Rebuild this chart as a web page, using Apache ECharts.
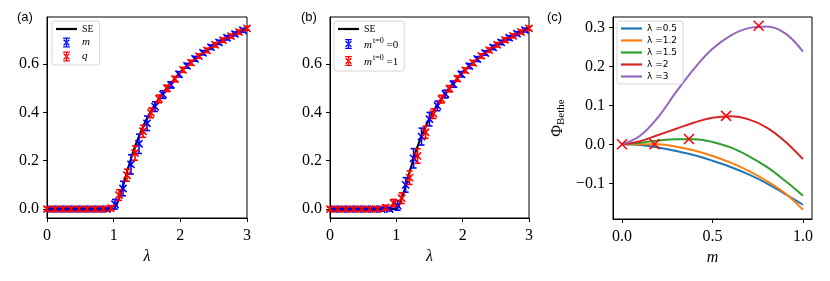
<!DOCTYPE html>
<html><head><meta charset="utf-8">
<script src="https://cdn.jsdelivr.net/npm/echarts@6/dist/echarts.min.js"></script>
<style>html,body{margin:0;padding:0;background:#fff}#c{width:830px;height:281px}</style>
</head><body><div id="c"></div>
<script>
// ---------- data ----------
const seLambda = [0, 0.5, 0.95, 1.0, 1.05, 1.1, 1.15, 1.2, 1.25, 1.3, 1.35, 1.4, 1.45, 1.5, 1.55, 1.6, 1.65, 1.7, 1.75, 1.8, 1.85, 1.9, 1.95, 2.0, 2.1, 2.2, 2.3, 2.4, 2.5, 2.6, 2.7, 2.8, 2.9, 3.0];
const seValue  = [0, 0, 0, 0, 0.02, 0.058, 0.105, 0.154, 0.2, 0.244, 0.281, 0.315, 0.347, 0.376, 0.401, 0.425, 0.446, 0.466, 0.485, 0.502, 0.519, 0.535, 0.551, 0.567, 0.593, 0.617, 0.638, 0.658, 0.677, 0.695, 0.71, 0.724, 0.737, 0.75];

const redLambda  = [0, 0.12, 0.24, 0.36, 0.48, 0.6, 0.72, 0.84, 0.96, 1.08, 1.2, 1.32, 1.44, 1.56, 1.68, 1.8, 1.92, 2.04, 2.16, 2.28, 2.4, 2.52, 2.64, 2.76, 2.88, 3.0];
const blueLambda = [0.06, 0.18, 0.3, 0.42, 0.54, 0.66, 0.78, 0.9, 1.02, 1.14, 1.26, 1.38, 1.5, 1.62, 1.74, 1.86, 1.98, 2.1, 2.22, 2.34, 2.46, 2.58, 2.7, 2.82, 2.94];

// panel (a)
const aQValue = [0, 0, 0, 0, 0, 0, 0, 0, 0.004, 0.058, 0.14, 0.232, 0.322, 0.398, 0.456, 0.5, 0.538, 0.576, 0.606, 0.633, 0.657, 0.68, 0.699, 0.716, 0.733, 0.748];
const aQErr   = [0.008, 0.008, 0.008, 0.008, 0.008, 0.008, 0.008, 0.008, 0.01, 0.022, 0.025, 0.03, 0.025, 0.02, 0.016, 0.013, 0.011, 0.01, 0.01, 0.009, 0.009, 0.009, 0.009, 0.008, 0.008, 0.008];
const aMValue = [0, 0, 0, 0, 0, 0, 0, 0, 0.02, 0.085, 0.185, 0.27, 0.355, 0.424, 0.474, 0.514, 0.558, 0.593, 0.622, 0.647, 0.67, 0.69, 0.709, 0.725, 0.74];
const aMErr   = [0.008, 0.008, 0.008, 0.008, 0.008, 0.008, 0.008, 0.008, 0.02, 0.03, 0.04, 0.04, 0.03, 0.02, 0.016, 0.013, 0.011, 0.01, 0.01, 0.009, 0.009, 0.009, 0.009, 0.008, 0.008];

// panel (b)
const bM1Value = [0, 0, 0, 0, 0, 0, 0, 0.006, 0.025, 0.045, 0.13, 0.22, 0.318, 0.395, 0.455, 0.498, 0.54, 0.574, 0.605, 0.634, 0.658, 0.68, 0.7, 0.717, 0.733, 0.748];
const bM1Err   = [0.008, 0.008, 0.008, 0.008, 0.008, 0.008, 0.008, 0.01, 0.015, 0.022, 0.028, 0.03, 0.025, 0.02, 0.016, 0.013, 0.011, 0.01, 0.01, 0.009, 0.009, 0.009, 0.009, 0.008, 0.008, 0.008];
const bM0Value = [0, 0, 0, 0, 0, 0, 0, 0, 0.015, 0.1, 0.21, 0.3, 0.372, 0.427, 0.476, 0.517, 0.558, 0.592, 0.621, 0.646, 0.669, 0.69, 0.709, 0.726, 0.741];
const bM0Err   = [0.008, 0.008, 0.008, 0.008, 0.008, 0.008, 0.008, 0.008, 0.02, 0.03, 0.04, 0.035, 0.028, 0.02, 0.016, 0.013, 0.011, 0.01, 0.01, 0.009, 0.009, 0.009, 0.009, 0.008, 0.008];

// panel (c)
const cM = [0, 0.1, 0.2, 0.3, 0.4, 0.5, 0.6, 0.7, 0.8, 0.9, 1.0];
const cNames = ['λ =0.5', 'λ =1.2', 'λ =1.5', 'λ =2', 'λ =3'];
const cPhi05 = [0, -0.002, -0.008, -0.017, -0.028, -0.042, -0.058, -0.077, -0.1, -0.127, -0.155];
const cPhi12 = [0, 0.0005, 0.0, -0.006, -0.016, -0.03, -0.047, -0.068, -0.094, -0.125, -0.168];
const cPhi15 = [0, 0.004, 0.01, 0.013, 0.013, 0.006, -0.008, -0.03, -0.058, -0.093, -0.132];
const cPhi2  = [0, 0.008, 0.024, 0.04, 0.056, 0.068, 0.072, 0.064, 0.043, 0.008, -0.038];
const cPhi3  = [0, 0.022, 0.07, 0.135, 0.195, 0.245, 0.279, 0.298, 0.302, 0.285, 0.238];
const cMaxM   = [0, 0.18, 0.37, 0.575, 0.755];
const cMaxPhi = [0, 0.0005, 0.0135, 0.073, 0.304];

const aTicksX = [0, 1, 2, 3];
const aTicksY = [0, 0.2, 0.4, 0.6];
const cTicksX = [0, 0.5, 1];
const cTicksY = [-0.1, 0, 0.1, 0.2, 0.3];

// ---------- chart ----------
const SERIF = 'Liberation Serif';
const chart = echarts.init(document.getElementById('c'));
const zip3 = (x, y, e) => x.map((v, i) => [v, y[i], e[i]]);
const zip2 = (x, y) => x.map((v, i) => [v, y[i]]);

function errRender(params, api) {
  const x = api.value(0), y = api.value(1), e = api.value(2);
  const c = api.coord([x, y]);
  const t = api.coord([x, y + e]);
  const b = api.coord([x, y - e]);
  const color = api.visual('color');
  const cw = 3, mk = 3.6;
  const style = { stroke: color, lineWidth: 1.6, fill: null };
  return { type: 'group', children: [
    { type: 'line', shape: { x1: c[0], y1: t[1], x2: c[0], y2: b[1] }, style },
    { type: 'line', shape: { x1: c[0] - cw, y1: t[1], x2: c[0] + cw, y2: t[1] }, style },
    { type: 'line', shape: { x1: c[0] - cw, y1: b[1], x2: c[0] + cw, y2: b[1] }, style },
    { type: 'line', shape: { x1: c[0] - mk, y1: c[1] - mk, x2: c[0] + mk, y2: c[1] + mk }, style },
    { type: 'line', shape: { x1: c[0] - mk, y1: c[1] + mk, x2: c[0] + mk, y2: c[1] - mk }, style }
  ]};
}
function crossRender(params, api) {
  const c = api.coord([api.value(0), api.value(1)]);
  const s = 5;
  const style = { stroke: '#ff0000', lineWidth: 1.5, fill: null };
  return { type: 'group', children: [
    { type: 'line', shape: { x1: c[0] - s, y1: c[1] - s, x2: c[0] + s, y2: c[1] + s }, style },
    { type: 'line', shape: { x1: c[0] - s, y1: c[1] + s, x2: c[0] + s, y2: c[1] - s }, style }
  ]};
}

const errIcon = 'path://M1,0H9V1.6H1Z M1,10.4H9V12H1Z M4.2,0H5.8V12H4.2Z M1,3.2L2.1,2.1L9,8.8L7.9,9.9Z M9,3.2L7.9,2.1L1,8.8L2.1,9.9Z';
const lineIcon = 'path://M0,0H21V2.2H0Z';
const fmt1 = v => (Math.round(v * 10) / 10).toFixed(1).replace('-', '\u2212');
const fmt0 = v => String(Math.round(v));

function xAx(gi, min, max, ticks, f, name) {
  return {
    type: 'value', gridIndex: gi, min, max,
    axisLine: { show: true, onZero: false, lineStyle: { color: '#000', width: 1 } },
    axisTick: { show: true, length: 4, customValues: ticks, lineStyle: { color: '#000' } },
    axisLabel: { customValues: ticks, formatter: f, color: '#000', fontFamily: SERIF, fontSize: 16, margin: 10 },
    splitLine: { show: false },
    name, nameLocation: 'middle', nameGap: 31,
    nameTextStyle: { fontFamily: SERIF, fontStyle: 'italic', fontSize: 16, color: '#000' }
  };
}
function yAx(gi, min, max, ticks, f) {
  return {
    type: 'value', gridIndex: gi, min, max,
    axisLine: { show: true, onZero: false, lineStyle: { color: '#000', width: 1 } },
    axisTick: { show: true, length: 4, customValues: ticks, lineStyle: { color: '#000' } },
    axisLabel: { customValues: ticks, formatter: f, color: '#000', fontFamily: SERIF, fontSize: 16, margin: 8 },
    splitLine: { show: false }
  };
}
const legendBase = {
  orient: 'vertical', top: 21, itemGap: 3, itemWidth: 21, itemHeight: 10,
  padding: [3, 6, 3, 4], backgroundColor: '#fff', borderColor: '#d6d6d6', borderWidth: 1, borderRadius: 3,
  textStyle: { fontFamily: SERIF, fontSize: 10, color: '#000' }
};
const gridBase = { show: true, borderColor: '#000', borderWidth: 1, backgroundColor: 'transparent' };
const tab = ['#1f77b4', '#ff7f0e', '#2ca02c', '#d62728', '#9467bd'];
const cPhis = [cPhi05, cPhi12, cPhi15, cPhi2, cPhi3];

const yC = yAx(2, -0.1915, 0.3265, cTicksY, fmt1);
yC.name = '{p|Φ}{s|Bethe}';
yC.nameLocation = 'middle';
yC.nameGap = 46;
yC.nameRotate = 90;
yC.nameTextStyle = { color: '#000', rich: {
  p: { fontFamily: SERIF, fontSize: 16, color: '#000' },
  s: { fontFamily: SERIF, fontSize: 11, color: '#000', verticalAlign: 'bottom', padding: [8, 0, 0, 0] }
}};

const option = {
  animation: false,
  backgroundColor: '#fff',
  grid: [
    Object.assign({ left: 47, top: 17, width: 200, height: 201 }, gridBase),
    Object.assign({ left: 330, top: 17, width: 199, height: 201 }, gridBase),
    Object.assign({ left: 613, top: 17, width: 199, height: 202 }, gridBase)
  ],
  xAxis: [
    xAx(0, 0, 3, aTicksX, fmt0, 'λ'),
    xAx(1, 0, 3, aTicksX, fmt0, 'λ'),
    xAx(2, -0.05, 1.05, cTicksX, fmt1, 'm')
  ],
  yAxis: [
    yAx(0, -0.037, 0.795, aTicksY, fmt1),
    yAx(1, -0.037, 0.795, aTicksY, fmt1),
    yC
  ],
  legend: [
    Object.assign({}, legendBase, {
      left: 52,
      data: [{ name: 'SE_a', icon: lineIcon }, { name: 'm_a', icon: errIcon }, { name: 'q_a', icon: errIcon }],
      formatter: n => n === 'SE_a' ? 'SE' : (n === 'm_a' ? '{i|m}' : '{i|q}'),
      textStyle: Object.assign({}, legendBase.textStyle, { rich: { i: { fontFamily: SERIF, fontStyle: 'italic', fontSize: 11 } } })
    }),
    Object.assign({}, legendBase, {
      left: 334,
      data: [{ name: 'SE_b', icon: lineIcon }, { name: 'm0_b', icon: errIcon }, { name: 'm1_b', icon: errIcon }],
      formatter: n => n === 'SE_b' ? 'SE' : (n === 'm0_b' ? '{i|m}{t|t=0}{n| =0}' : '{i|m}{t|t=0}{n| =1}'),
      textStyle: Object.assign({}, legendBase.textStyle, { rich: {
        i: { fontFamily: SERIF, fontStyle: 'italic', fontSize: 11, lineHeight: 14, padding: [2, 1, 0, 0] },
        t: { fontFamily: SERIF, fontSize: 8, verticalAlign: 'top', lineHeight: 14 },
        n: { fontFamily: SERIF, fontSize: 11, lineHeight: 14, padding: [3, 0, 0, 0] }
      } })
    }),
    Object.assign({}, legendBase, {
      left: 617,
      data: cNames.map(n => ({ name: n, icon: lineIcon })),
      textStyle: { fontFamily: 'DejaVu Sans', fontSize: 9, color: '#000' }
    })
  ],
  graphic: [
    { type: 'text', left: 17, top: 11, style: { text: '(a)', font: '13px "Liberation Sans"', fill: '#000' } },
    { type: 'text', left: 301, top: 11, style: { text: '(b)', font: '13px "Liberation Sans"', fill: '#000' } },
    { type: 'text', left: 547, top: 11, style: { text: '(c)', font: '13px "Liberation Sans"', fill: '#000' } }
  ],
  series: [
    { name: 'SE_a', type: 'line', xAxisIndex: 0, yAxisIndex: 0, data: zip2(seLambda, seValue), symbol: 'none', lineStyle: { color: '#000', width: 2 }, itemStyle: { color: '#000' }, z: 2 },
    { name: 'm_a', type: 'custom', xAxisIndex: 0, yAxisIndex: 0, data: zip3(blueLambda, aMValue, aMErr), renderItem: errRender, itemStyle: { color: '#0000ff' }, encode: { x: 0, y: 1 }, z: 3 },
    { name: 'q_a', type: 'custom', xAxisIndex: 0, yAxisIndex: 0, data: zip3(redLambda, aQValue, aQErr), renderItem: errRender, itemStyle: { color: '#ff0000' }, encode: { x: 0, y: 1 }, z: 4 },

    { name: 'SE_b', type: 'line', xAxisIndex: 1, yAxisIndex: 1, data: zip2(seLambda, seValue), symbol: 'none', lineStyle: { color: '#000', width: 2 }, itemStyle: { color: '#000' }, z: 2 },
    { name: 'm0_b', type: 'custom', xAxisIndex: 1, yAxisIndex: 1, data: zip3(blueLambda, bM0Value, bM0Err), renderItem: errRender, itemStyle: { color: '#0000ff' }, encode: { x: 0, y: 1 }, z: 3 },
    { name: 'm1_b', type: 'custom', xAxisIndex: 1, yAxisIndex: 1, data: zip3(redLambda, bM1Value, bM1Err), renderItem: errRender, itemStyle: { color: '#ff0000' }, encode: { x: 0, y: 1 }, z: 4 },

    ...cNames.map((n, i) => ({
      name: n, type: 'line', xAxisIndex: 2, yAxisIndex: 2, data: zip2(cM, cPhis[i]),
      smooth: 0.4, symbol: 'none', lineStyle: { color: tab[i], width: 2 }, itemStyle: { color: tab[i] }, z: 2
    })),
    { name: 'max', type: 'custom', xAxisIndex: 2, yAxisIndex: 2, data: zip2(cMaxM, cMaxPhi), renderItem: crossRender, itemStyle: { color: '#ff0000' }, encode: { x: 0, y: 1 }, z: 5 }
  ]
};
chart.setOption(option);
</script>
</body></html>
